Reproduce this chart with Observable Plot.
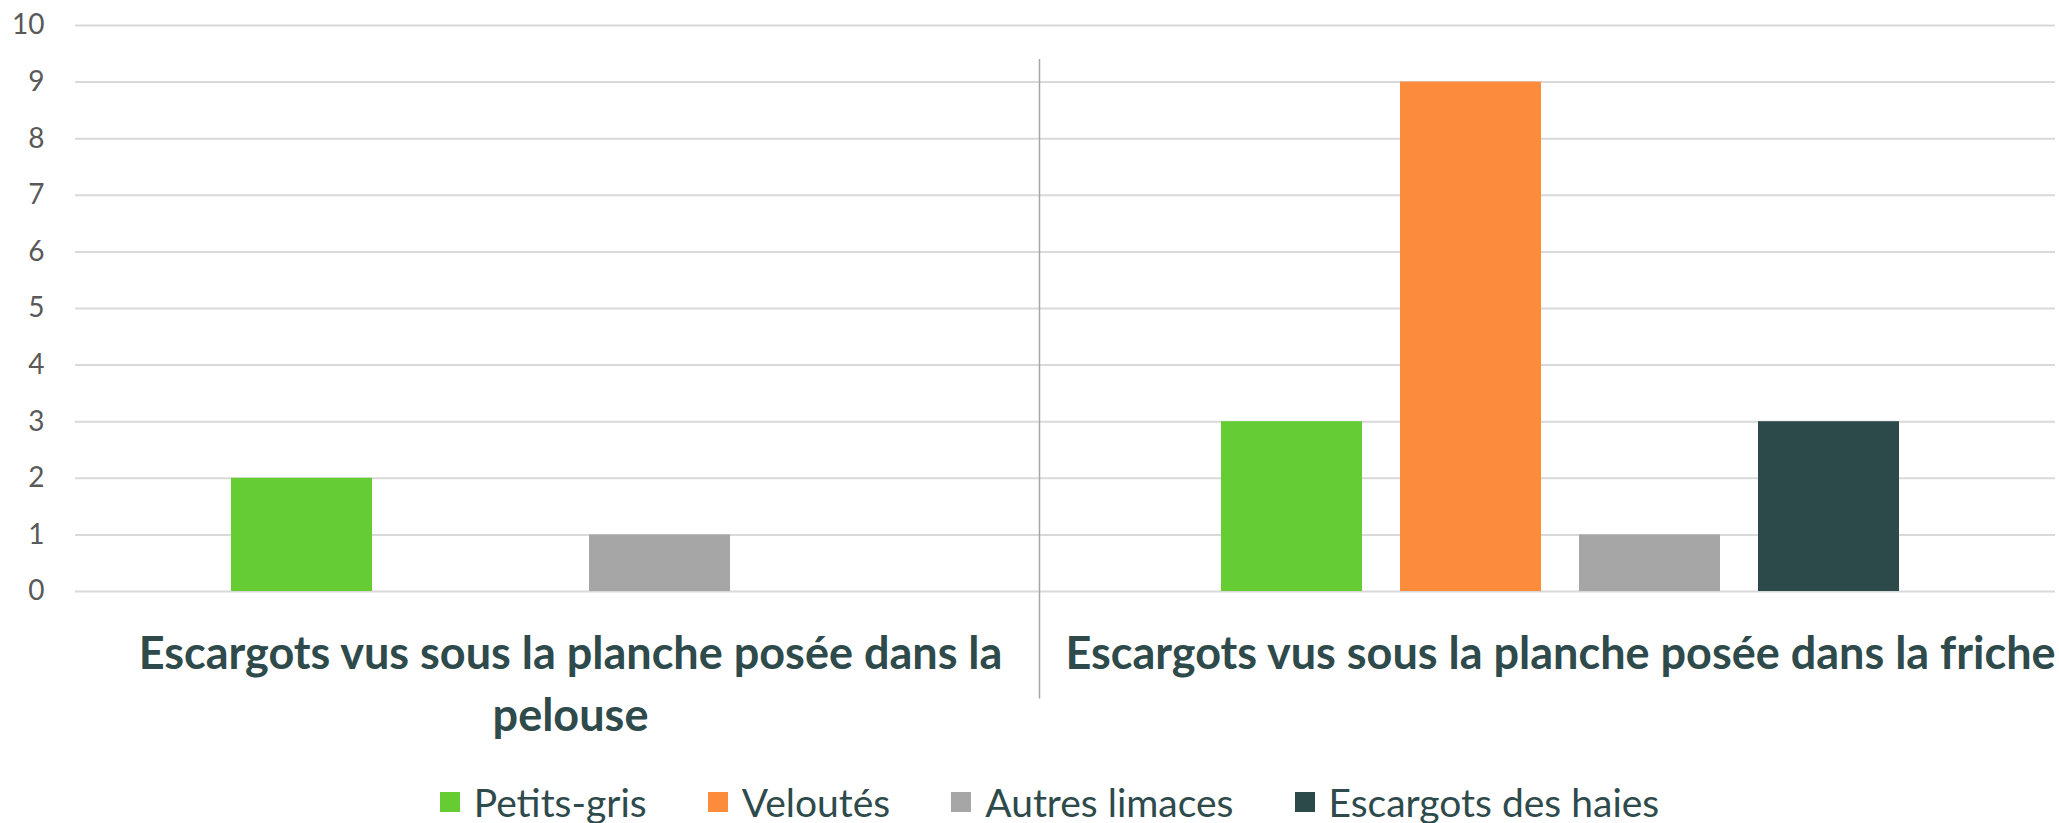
<!DOCTYPE html>
<html><head><meta charset="utf-8">
<script src="https://cdn.jsdelivr.net/npm/d3@7"></script>
<script src="https://cdn.jsdelivr.net/npm/@observablehq/plot@0.6"></script>
<style>
html,body{margin:0;padding:0;background:#fff;}
body{width:2059px;height:823px;overflow:hidden;font-family:Lato,sans-serif;}
#legend{height:53px;display:flex;justify-content:center;align-items:center;padding-left:40px;padding-top:10px;box-sizing:border-box;}
body .lg-swatches{margin:0 !important;font-family:Lato !important;font-size:39px !important;color:#2e4a4b !important;}
body .lg-swatch{margin-right:61px !important;}
body .lg-swatch:last-child{margin-right:0 !important;}
body .lg-swatch > svg{margin-right:14px !important;}
</style></head><body>
<div id="chart"></div><div id="legend"></div>
<script>
const groups = ["Escargots vus sous la planche posée dans la pelouse", "Escargots vus sous la planche posée dans la friche"];
const groupLabels = ["Escargots vus sous la planche posée dans la\npelouse", "Escargots vus sous la planche posée dans la friche"];
const series = ["Petits-gris", "Veloutés", "Autres limaces", "Escargots des haies"];
const valuesPelouse = [2, 0, 1, 0];
const valuesFriche = [3, 9, 1, 3];
const colors = ["#66cc33", "#fd8b3c", "#a6a6a6", "#2c4a4a"];
const yTicks = [0, 1, 2, 3, 4, 5, 6, 7, 8, 9, 10];

const groupValues = [valuesPelouse, valuesFriche];
const rows = [];
groups.forEach((g, gi) => series.forEach((s, si) => rows.push({group: g, series: s, value: groupValues[gi][si]})));

const chart = Plot.plot({
  width: 2059, height: 770,
  marginLeft: 75, marginRight: 4, marginTop: 25, marginBottom: 179,
  style: {fontFamily: "Lato", color: "#595959", background: "#fff", overflow: "visible"},
  fx: {domain: groups, padding: 0, axis: null},
  x: {domain: series, paddingInner: 0.212, paddingOuter: 0.866, axis: null},
  y: {domain: [0, 10], axis: null},
  color: {domain: series, range: colors},
  marks: [
    Plot.gridY(yTicks, {stroke: "#d9d9d9", strokeOpacity: 1, strokeWidth: 2}),
    Plot.barY(rows, {fx: "group", x: "series", y: "value", fill: "series"}),
    Plot.axisY(yTicks, {tickSize: 0, tickPadding: 31, fontSize: 28, label: null, tickFormat: d3.format("d")}),
    Plot.ruleX([groups[1]], {fx: d => d, x: null, y1: () => 9.4, y2: () => -1.9, dx: -521, stroke: "#a6a6a6", strokeWidth: 1.5}),
    Plot.text(groups, {fx: d => d, text: d => groupLabels[groups.indexOf(d)], frameAnchor: "bottom", lineAnchor: "top", dy: 33, fontSize: 45, fontWeight: "bold", fill: "#2e4a4b", lineHeight: 1.38})
  ]
});
document.getElementById("chart").appendChild(chart);

const legend = Plot.legend({
  color: {domain: series, range: colors},
  legend: "swatches", swatchSize: 20, className: "lg"
});
document.getElementById("legend").appendChild(legend);
</script>
</body></html>
